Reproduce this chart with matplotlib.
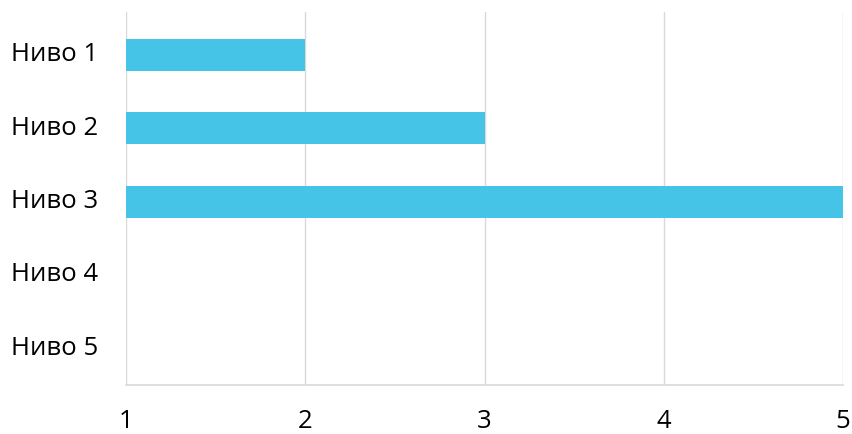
import numpy as np
import matplotlib.pyplot as plt
import matplotlib.transforms as mtransforms

plt.rcParams['font.family'] = ['Open Sans', 'DejaVu Sans']

# chart data
levels = ['Ниво 1', 'Ниво 2', 'Ниво 3', 'Ниво 4', 'Ниво 5']
values = [2, 3, 5, 0, 0]
x_ticks = [1, 2, 3, 4, 5]

fig = plt.figure(figsize=(8.52, 4.34), dpi=100)
W, H = 852, 434
ax = fig.add_axes([126 / W, 1 - 385 / H, (843 - 126) / W, (385 - 12) / H])

y = np.arange(len(levels))
ax.barh(y, values, height=0.437, color='#45C4E8', zorder=3)

ax.set_xlim(1, 5)
ax.set_ylim(4.5, -0.586)
ax.set_xticks(x_ticks)
ax.set_xticklabels([str(t) for t in x_ticks])
ax.set_yticks(y)
ax.set_yticklabels(levels)

ax.grid(axis='x', color='#D9D9D9', linewidth=1, zorder=0)
for s in ['top', 'right', 'left']:
    ax.spines[s].set_visible(False)
ax.spines['bottom'].set_color('#D9D9D9')
ax.spines['bottom'].set_linewidth(1.2)

ax.tick_params(axis='both', length=0, labelsize=18.5, colors='black')
ax.tick_params(axis='x', pad=17)
ax.tick_params(axis='y', pad=20)

# category labels sit a few pixels above the bar centres
shift = mtransforms.ScaledTranslation(0, 3 / 100, fig.dpi_scale_trans)
for lab in ax.get_yticklabels():
    lab.set_transform(lab.get_transform() + shift)

fig.savefig('out.png', dpi=100)
